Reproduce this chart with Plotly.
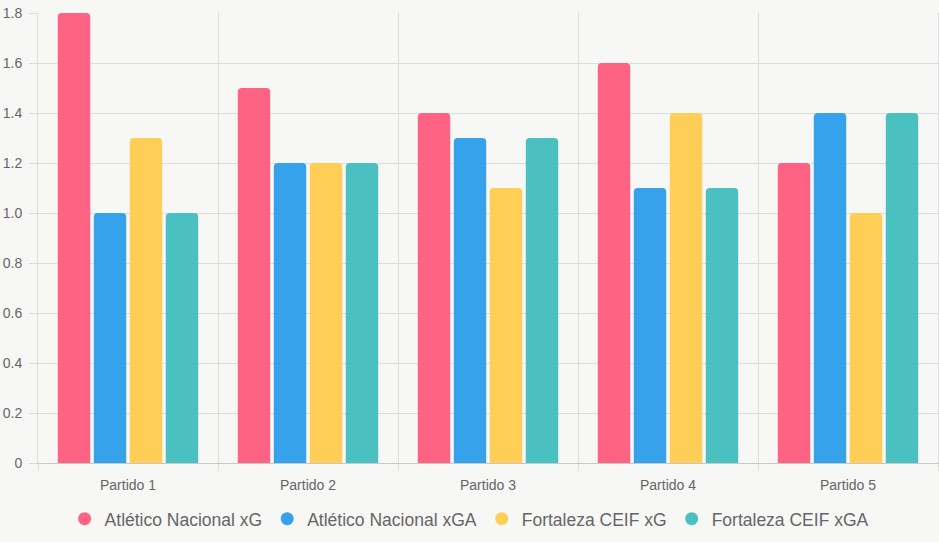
import plotly.graph_objects as go

categories = ["Partido 1", "Partido 2", "Partido 3", "Partido 4", "Partido 5"]
series_names = ["Atlético Nacional xG", "Atlético Nacional xGA", "Fortaleza CEIF xG", "Fortaleza CEIF xGA"]
nacional_xg = [1.8, 1.5, 1.4, 1.6, 1.2]
nacional_xga = [1.0, 1.2, 1.3, 1.1, 1.4]
fortaleza_xg = [1.3, 1.2, 1.1, 1.4, 1.0]
fortaleza_xga = [1.0, 1.2, 1.3, 1.1, 1.4]
y_ticks = [0, 0.2, 0.4, 0.6, 0.8, 1.0, 1.2, 1.4, 1.6, 1.8]
y_tick_labels = ["0", "0.2", "0.4", "0.6", "0.8", "1.0", "1.2", "1.4", "1.6", "1.8"]

colors = ["#FF6384", "#36A2EB", "#FFCE56", "#4BC0C0"]
values = [nacional_xg, nacional_xga, fortaleza_xg, fortaleza_xga]
xpos = list(range(len(categories)))

fig = go.Figure()
for name, vals, col in zip(series_names, values, colors):
    fig.add_trace(go.Bar(x=xpos, y=vals, name=name, marker=dict(color=col, line=dict(width=0)),
                         showlegend=False, hoverinfo="y+name"))
for name, col in zip(series_names, colors):
    fig.add_trace(go.Scatter(x=[None], y=[None], mode="markers", name=name,
                             marker=dict(color=col, size=13, symbol="circle")))

grid = "#dcdcdc"
fig.update_layout(
    width=939, height=542,
    margin=dict(l=38, r=1, t=13, b=79),
    paper_bgcolor="#f7f7f5", plot_bgcolor="#f7f7f5",
    barmode="group", bargap=0.2, bargroupgap=0.1, barcornerradius=4,
    font=dict(family="Liberation Sans, Arial, sans-serif", color="#666666", size=14),
    xaxis=dict(range=[-0.5, 4.5], tickmode="array", tickvals=xpos, ticktext=categories,
               showgrid=False, ticks="", zeroline=False, showline=True, linecolor="#c8c8c8",
               ticklabelstandoff=9, tickfont=dict(size=14, color="#666666"),
               minor=dict(tick0=0.5, dtick=1, showgrid=True, gridcolor=grid, ticks="outside",
                          ticklen=7, tickcolor=grid)),
    yaxis=dict(range=[0, 1.8], tickmode="array", tickvals=y_ticks, ticktext=y_tick_labels,
               showgrid=True, gridcolor=grid, zeroline=False, showline=True, linecolor=grid,
               mirror=True, ticks="outside", ticklen=8, tickcolor=grid, ticklabelstandoff=4,
               tickfont=dict(size=14, color="#666666")),
    legend=dict(orientation="h", x=0.479, xanchor="center", y=-0.124, yanchor="middle",
                font=dict(size=17.5, color="#666666"), bgcolor="rgba(0,0,0,0)"),
)

fig.write_html("out.html")
